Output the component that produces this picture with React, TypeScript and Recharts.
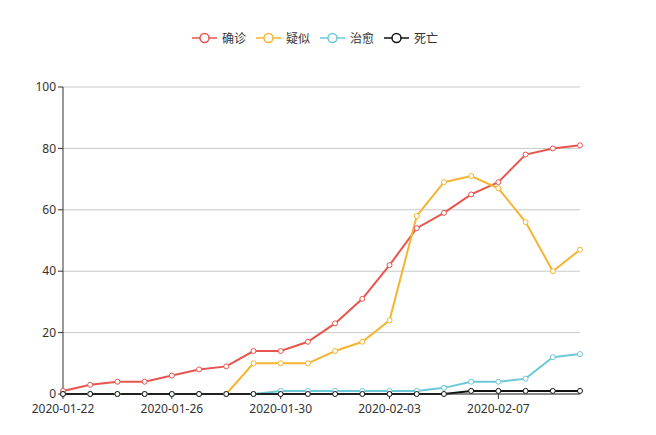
import { LineChart, Line, XAxis, YAxis, CartesianGrid, Legend } from "recharts";

const dates = [
  "2020-01-22", "2020-01-23", "2020-01-24", "2020-01-25", "2020-01-26",
  "2020-01-27", "2020-01-28", "2020-01-29", "2020-01-30", "2020-01-31",
  "2020-02-01", "2020-02-02", "2020-02-03", "2020-02-04", "2020-02-05",
  "2020-02-06", "2020-02-07", "2020-02-08", "2020-02-09", "2020-02-10",
];
const confirmed = [1, 3, 4, 4, 6, 8, 9, 14, 14, 17, 23, 31, 42, 54, 59, 65, 69, 78, 80, 81];
const suspected = [0, 0, 0, 0, 0, 0, 0, 10, 10, 10, 14, 17, 24, 58, 69, 71, 67, 56, 40, 47];
const cured = [0, 0, 0, 0, 0, 0, 0, 0, 1, 1, 1, 1, 1, 1, 2, 4, 4, 5, 12, 13];
const dead = [0, 0, 0, 0, 0, 0, 0, 0, 0, 0, 0, 0, 0, 0, 0, 1, 1, 1, 1, 1];
const yTicks = [0, 20, 40, 60, 80, 100];

const SERIES = [
  { key: "确诊", color: "#e8554e", values: confirmed },
  { key: "疑似", color: "#f5b431", values: suspected },
  { key: "治愈", color: "#6cc8d8", values: cured },
  { key: "死亡", color: "#111111", values: dead },
];

const data = dates.map((d, i) => {
  const row: Record<string, string | number> = { date: d };
  SERIES.forEach((s) => (row[s.key] = s.values[i]));
  return row;
});

const FONT = "'Noto Sans', 'Noto Sans CJK SC', sans-serif";

// legend sits a bit left of centre in the original
const LegendRow = () => (
  <div style={{ display: "flex", paddingLeft: 192, gap: 10, fontFamily: "'Noto Sans CJK SC', sans-serif", fontSize: 12, color: "#333", lineHeight: "16px" }}>
    {SERIES.map((s) => (
      <div key={s.key} style={{ display: "flex", alignItems: "center" }}>
        <svg width={25} height={14} style={{ marginRight: 5 }}>
          <line x1={0} y1={7} x2={25} y2={7} stroke={s.color} strokeWidth={1.5} />
          <circle cx={12.5} cy={7} r={4.5} fill="#fff" stroke={s.color} strokeWidth={1.5} />
        </svg>
        <span>{s.key}</span>
      </div>
    ))}
  </div>
);

export default function App() {
  return (
    <div style={{ position: "absolute", left: 0, top: 0, background: "#fff" }}>
      <LineChart width={656} height={435} data={data} margin={{ top: 71, right: 76, bottom: 14, left: 23 }}>
        <CartesianGrid vertical={false} stroke="#c8c8c8" />
        <XAxis
          dataKey="date"
          interval={3}
          tickSize={5}
          tickMargin={5}
          axisLine={{ stroke: "#333" }}
          tickLine={{ stroke: "#333" }}
          tick={{ fill: "#333", fontSize: 12, fontFamily: FONT }}
          height={27}
        />
        <YAxis
          domain={[0, 100]}
          ticks={yTicks}
          width={40}
          tickSize={5}
          axisLine={{ stroke: "#333" }}
          tickLine={{ stroke: "#333" }}
          tick={{ fill: "#333", fontSize: 12, fontFamily: FONT }}
        />
        <Legend verticalAlign="top" content={<LegendRow />} wrapperStyle={{ top: 30, left: 0, width: 656 }} />
        {SERIES.map((s) => (
          <Line
            key={s.key}
            dataKey={s.key}
            type="linear"
            stroke={s.color}
            strokeWidth={2}
            dot={{ r: 2.5, fill: "#fff", stroke: s.color, strokeWidth: 1 }}
            activeDot={false}
            isAnimationActive={false}
          />
        ))}
      </LineChart>
    </div>
  );
}
